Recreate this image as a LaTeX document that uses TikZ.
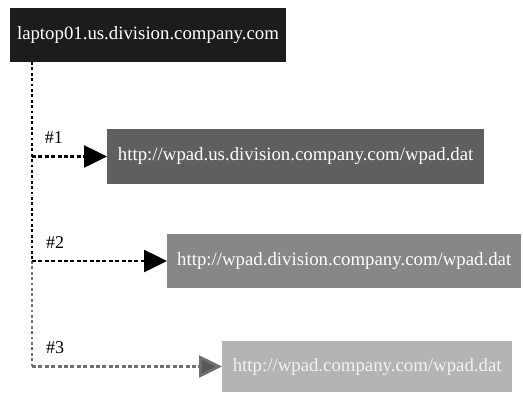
\documentclass[tikz,border=0pt]{standalone}
\usepackage{fontspec}
\setmainfont{Liberation Serif}
\usetikzlibrary{arrows.meta}

\definecolor{hostfill}{HTML}{1C1C1C}
\definecolor{wpadone}{HTML}{5F5F5F}
\definecolor{wpadtwo}{HTML}{878787}
\definecolor{wpadthree}{HTML}{B4B4B4}
\definecolor{lastline}{HTML}{707070}
\definecolor{lasttip}{HTML}{585858}

\tikzset{
    urlbox/.style={rectangle, inner sep=0pt, text=white, font=\fontsize{18.8}{22}\selectfont},
    hashlabel/.style={font=\fontsize{18}{20}\selectfont},
    trunk/.style={line width=2.8pt, dash pattern=on 2.8pt off 2.6pt},
    branch/.style={line width=2.6pt, dash pattern=on 4pt off 2.4pt, -{Triangle[length=23pt,width=22pt]}}
}

\begin{document}
\begin{tikzpicture}[x=1pt, y=-1pt]
    \useasboundingbox (0,0) rectangle (523,392);

    % Client host
    \node[urlbox, fill=hostfill, minimum width=276pt, minimum height=54pt] (host) at (148,35) {laptop01.us.division.company.com};

    % WPAD lookups, one per domain level
    \node[urlbox, fill=wpadone, anchor=west, minimum width=377pt, minimum height=55pt] (wpad1) at (107,156.5) {http://wpad.us.division.company.com/wpad.dat};
    \node[urlbox, fill=wpadtwo, anchor=west, minimum width=354pt, minimum height=54pt] (wpad2) at (167,261) {http://wpad.division.company.com/wpad.dat};
    \node[urlbox, fill=wpadthree, anchor=west, minimum width=290pt, minimum height=51pt, text=white!95!black] (wpad3) at (222,366.5) {http://wpad.company.com/wpad.dat};

    % Branch points on the trunk
    \coordinate (top) at (32,62);
    \coordinate (b1) at (top |- wpad1.west);
    \coordinate (b2) at (top |- wpad2.west);
    \coordinate (b3) at (top |- wpad3.west);

    \draw[trunk] (top) -- (b2);
    \draw[trunk, lastline] (b2) -- (b3);

    \draw[branch] (b1) -- (wpad1.west);
    \draw[branch] (b2) -- (wpad2.west);
    \draw[branch, lastline, -{Triangle[length=23pt,width=22pt,fill=lasttip]}] (b3) -- (wpad3.west);

    % Order labels
    \node[hashlabel] (n1) at (54,138) {\#1};
    \node[hashlabel] (n2) at (55,243) {\#2};
    \node[hashlabel] (n3) at (55,348) {\#3};

\end{tikzpicture}
\end{document}
